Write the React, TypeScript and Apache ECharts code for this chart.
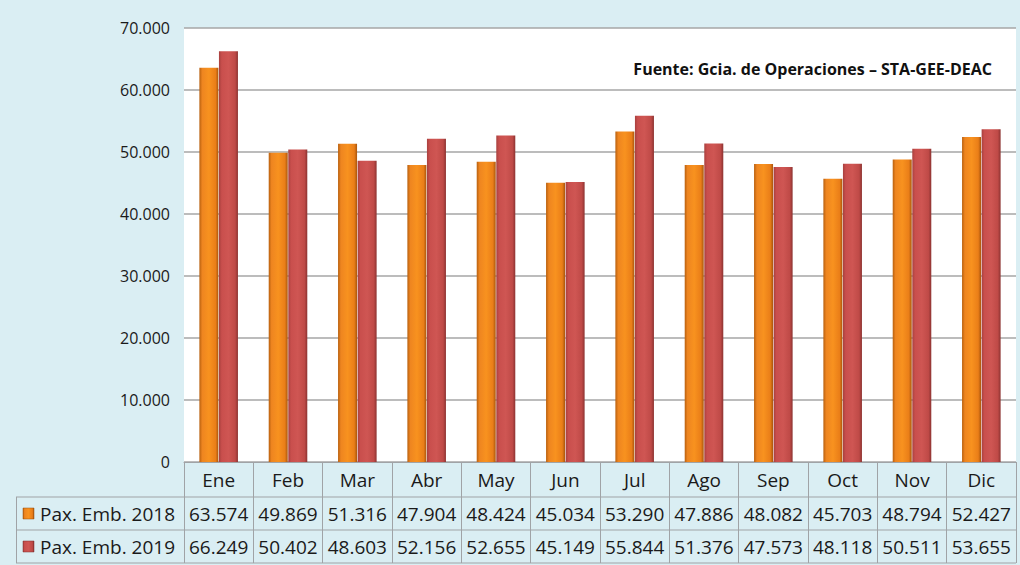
import React, { useEffect, useRef } from "react";
import * as echarts from "echarts";

const categories = ["Ene", "Feb", "Mar", "Abr", "May", "Jun", "Jul", "Ago", "Sep", "Oct", "Nov", "Dic"];
const pax2018 = [63574, 49869, 51316, 47904, 48424, 45034, 53290, 47886, 48082, 45703, 48794, 52427];
const pax2019 = [66249, 50402, 48603, 52156, 52655, 45149, 55844, 51376, 47573, 48118, 50511, 53655];
const seriesNames = ["Pax. Emb. 2018", "Pax. Emb. 2019"];
const sourceNote = "Fuente: Gcia. de Operaciones – STA-GEE-DEAC";

const fmt = (v: number) => {
  const s = Math.round(v).toString();
  return s.replace(/\B(?=(\d{3})+(?!\d))/g, ".");
};

const FONT = "'Open Sans', sans-serif";
const BG = "#DAEEF3";
const LINE = "#A0A3A6";
const TXT = "#1A1A1A";

const orangeGrad = new echarts.graphic.LinearGradient(0, 0, 1, 0, [
  { offset: 0, color: "#B8600F" },
  { offset: 0.15, color: "#EE8520" },
  { offset: 0.5, color: "#F8921F" },
  { offset: 0.85, color: "#EA7E18" },
  { offset: 1, color: "#A9550C" },
]);
const redGrad = new echarts.graphic.LinearGradient(0, 0, 1, 0, [
  { offset: 0, color: "#A8403E" },
  { offset: 0.15, color: "#C94F4D" },
  { offset: 0.5, color: "#CF5653" },
  { offset: 0.85, color: "#BF4A47" },
  { offset: 1, color: "#8C3331" },
]);

const valueAxis = (values: number[], offset: number) => ({
  type: "category",
  data: categories,
  position: "bottom",
  offset,
  axisLine: { show: false },
  axisTick: { show: false },
  splitLine: { show: false },
  axisLabel: {
    margin: 8,
    interval: 0,
    fontFamily: FONT,
    fontSize: 19,
    color: TXT,
    formatter: (_v: string, idx: number) => fmt(values[idx]),
  },
});

export default function App() {
  const ref = useRef<HTMLDivElement>(null);
  useEffect(() => {
    if (!ref.current) return;
    const chart = echarts.init(ref.current, undefined, { renderer: "svg" });
    chart.setOption({
      animation: false,
      backgroundColor: BG,
      textStyle: { fontFamily: FONT },
      grid: {
        left: 184,
        right: 4,
        top: 28,
        bottom: 103,
        show: true,
        backgroundColor: "#FFFFFF",
        borderWidth: 0,
      },
      xAxis: [
        {
          type: "category",
          data: categories,
          axisLine: { show: true, lineStyle: { color: LINE, width: 1 } },
          axisTick: { show: true, length: 101, lineStyle: { color: LINE, width: 1 } },
          axisLabel: {
            margin: 8,
            interval: 0,
            fontFamily: FONT,
            fontSize: 19,
            color: TXT,
          },
        },
        valueAxis(pax2018, 34),
        valueAxis(pax2019, 67),
      ],
      yAxis: {
        type: "value",
        min: 0,
        max: 70000,
        interval: 10000,
        axisLine: { show: false },
        axisTick: { show: false },
        splitLine: { lineStyle: { color: "#A6A6A6", width: 1.5 } },
        axisLabel: {
          margin: 14,
          fontFamily: FONT,
          fontSize: 16,
          color: TXT,
          formatter: (v: number) => fmt(v),
        },
      },
      series: [
        {
          name: seriesNames[0],
          type: "bar",
          data: pax2018,
          barWidth: 19,
          barGap: "3%",
          itemStyle: { color: orangeGrad },
        },
        {
          name: seriesNames[1],
          type: "bar",
          data: pax2019,
          barWidth: 19,
          barGap: "3%",
          itemStyle: { color: redGrad },
        },
      ],
      graphic: [
        { type: "line", shape: { x1: 16, y1: 497, x2: 1016, y2: 497 }, style: { stroke: LINE, lineWidth: 1 } },
        { type: "line", shape: { x1: 16, y1: 530, x2: 1016, y2: 530 }, style: { stroke: LINE, lineWidth: 1 } },
        { type: "line", shape: { x1: 16, y1: 563, x2: 1016, y2: 563 }, style: { stroke: LINE, lineWidth: 1 } },
        { type: "line", shape: { x1: 16.5, y1: 497, x2: 16.5, y2: 563 }, style: { stroke: LINE, lineWidth: 1 } },
        { type: "rect", shape: { x: 23, y: 508, width: 11, height: 11 }, style: { fill: orangeGrad, stroke: "#9A4E0A", lineWidth: 0.5 } },
        { type: "rect", shape: { x: 23, y: 541, width: 11, height: 11 }, style: { fill: redGrad, stroke: "#7E2E2C", lineWidth: 0.5 } },
        {
          type: "text",
          x: 40,
          y: 514,
          style: { text: seriesNames[0], font: `19px ${FONT}`, fill: TXT, textVerticalAlign: "middle" },
        },
        {
          type: "text",
          x: 40,
          y: 547,
          style: { text: seriesNames[1], font: `19px ${FONT}`, fill: TXT, textVerticalAlign: "middle" },
        },
        {
          type: "text",
          x: 992,
          y: 69,
          style: {
            text: sourceNote,
            font: `bold 16px ${FONT}`,
            fill: "#111111",
            textAlign: "right",
            textVerticalAlign: "middle",
          },
        },
      ],
    });
    return () => chart.dispose();
  }, []);
  return <div ref={ref} style={{ position: "fixed", left: 0, top: 0, width: 1020, height: 565 }} />;
}
